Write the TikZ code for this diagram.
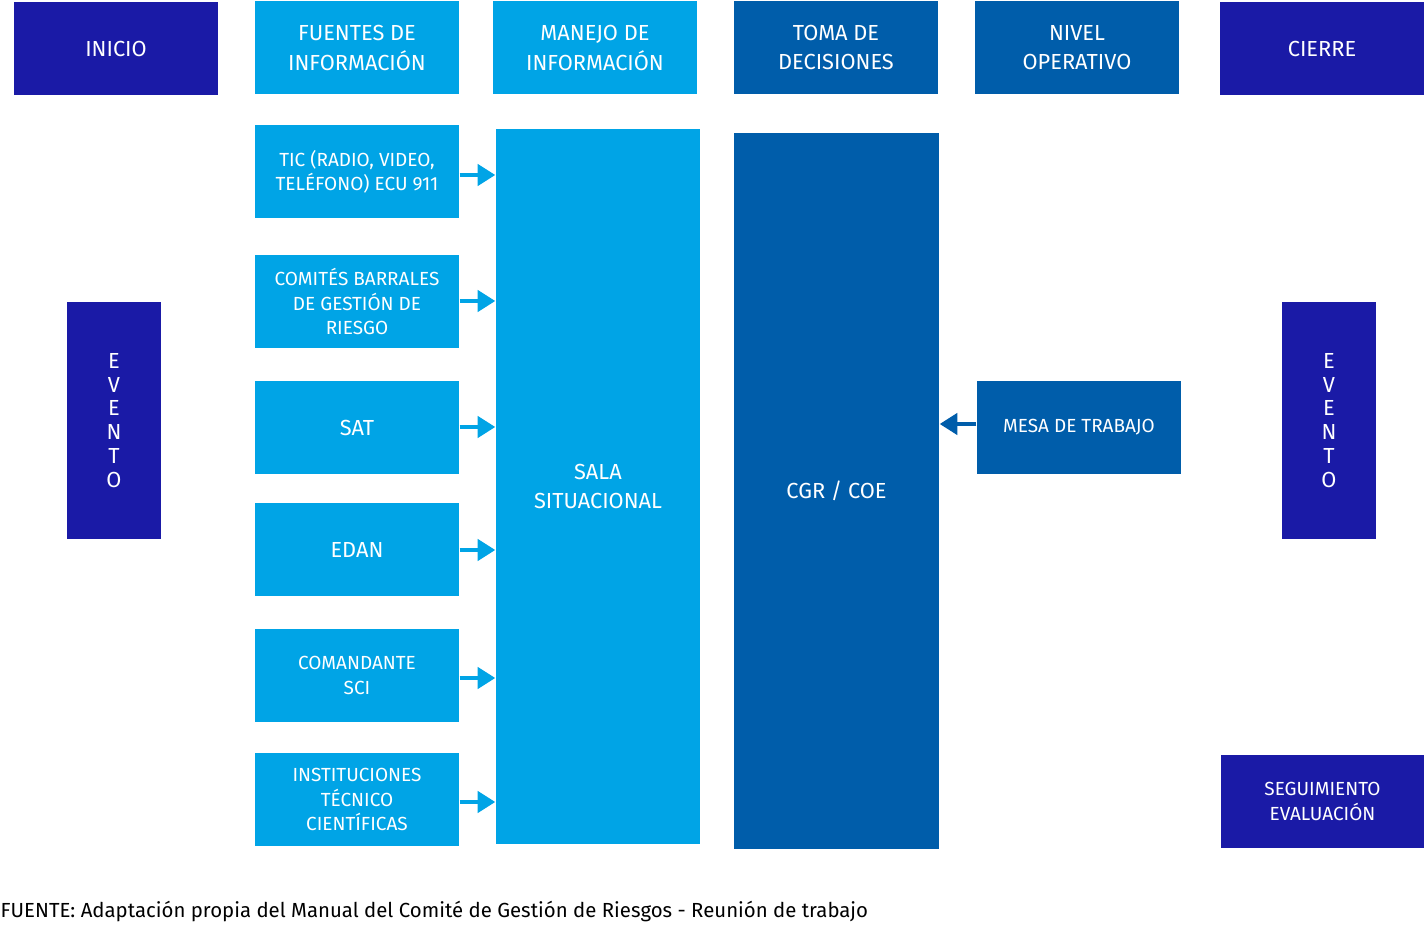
\documentclass[tikz,border=0pt]{standalone}
\usepackage{fontspec}
\setmainfont{Fira Sans}
\usetikzlibrary{arrows.meta}
\definecolor{navy}{HTML}{1A1AA6}
\definecolor{cyanb}{HTML}{00A4E6}
\definecolor{midb}{HTML}{005DAA}
\tikzset{
  box/.style={fill=#1, text=white, inner sep=0pt, align=center,
    minimum width=2.04cm, minimum height=0.93cm},
  big/.style={font=\fontsize{6.2}{8.3}\selectfont},
  small/.style={font=\fontsize{5.4}{6.9}\selectfont},
  tall/.style={font=\fontsize{6.2}{6.8}\selectfont},
  arr/.style={-{Triangle[length=5pt,width=6pt]}, line width=1.1pt, cyanb},
}
\begin{document}
\begin{tikzpicture}
   \useasboundingbox (0,0) rectangle (14.25,9.26);
   % header row
   \node[box=navy,big] (inicio) at (1.16,8.775) {INICIO};
   \node[box=cyanb,big] (fuentes) at (3.57,8.78) {FUENTES DE\\INFORMACIÓN};
   \node[box=cyanb,big] (manejo) at (5.95,8.78) {MANEJO DE\\INFORMACIÓN};
   \node[box=midb,big] (toma) at (8.36,8.785) {TOMA DE\\DECISIONES};
   \node[box=midb,big] (nivel) at (10.77,8.785) {NIVEL\\OPERATIVO};
   \node[box=navy,big] (cierre) at (13.22,8.775) {CIERRE};
   
   % sources
   \node[box=cyanb,small] (tic) at (3.57,7.54) {TIC (RADIO, VIDEO,\\TELÉFONO) ECU 911};
   \node[box=cyanb,small] (comites) at (3.57,6.245) {COMITÉS BARRALES\\DE GESTIÓN DE\\RIESGO};
   \node[box=cyanb,big] (sat) at (3.57,4.985) {SAT};
   \node[box=cyanb,big] (edan) at (3.57,3.765) {EDAN};
   \node[box=cyanb,small] (comandante) at (3.57,2.505) {COMANDANTE\\SCI};
   \node[box=cyanb,small] (instituciones) at (3.57,1.265) {INSTITUCIONES\\TÉCNICO\\CIENTÍFICAS};
   
   % central columns
   \node[box=cyanb,big,minimum height=7.15cm] (sala) at (5.98,4.395) {SALA\\SITUACIONAL};
   \node[box=midb,big,minimum width=2.05cm,minimum height=7.16cm] (cgr) at (8.365,4.35) {CGR / COE};
   \node[box=midb,small] (mesa) at (10.79,4.985) {MESA DE TRABAJO};
   
   % side blocks
   \node[box=navy,tall,minimum width=0.94cm,minimum height=2.37cm] (eventoL) at (1.14,5.055) {E\\V\\E\\N\\T\\O};
   \node[box=navy,tall,minimum width=0.94cm,minimum height=2.37cm] (eventoR) at (13.29,5.055) {E\\V\\E\\N\\T\\O};
   \node[box=navy,small,minimum width=2.03cm] (seguimiento) at (13.225,1.245) {SEGUIMIENTO\\EVALUACIÓN};
   
   % arrows into sala
   \draw[arr] (tic.east |- 0,7.51) -- (sala.west |- 0,7.51);
   \draw[arr] (comites.east |- 0,6.25) -- (sala.west |- 0,6.25);
   \draw[arr] (sat.east |- 0,4.99) -- (sala.west |- 0,4.99);
   \draw[arr] (edan.east |- 0,3.76) -- (sala.west |- 0,3.76);
   \draw[arr] (comandante.east |- 0,2.48) -- (sala.west |- 0,2.48);
   \draw[arr] (instituciones.east |- 0,1.24) -- (sala.west |- 0,1.24);
   \draw[arr,midb] (mesa.west |- 0,5.02) -- (cgr.east |- 0,5.02);
   
   \node[anchor=west,inner sep=0pt,font=\fontsize{5.8}{7}\selectfont] (fuente) at (0,0.14) {FUENTE: Adaptación propia del Manual del Comité de Gestión de Riesgos - Reunión de trabajo};
\end{tikzpicture}
\end{document}
